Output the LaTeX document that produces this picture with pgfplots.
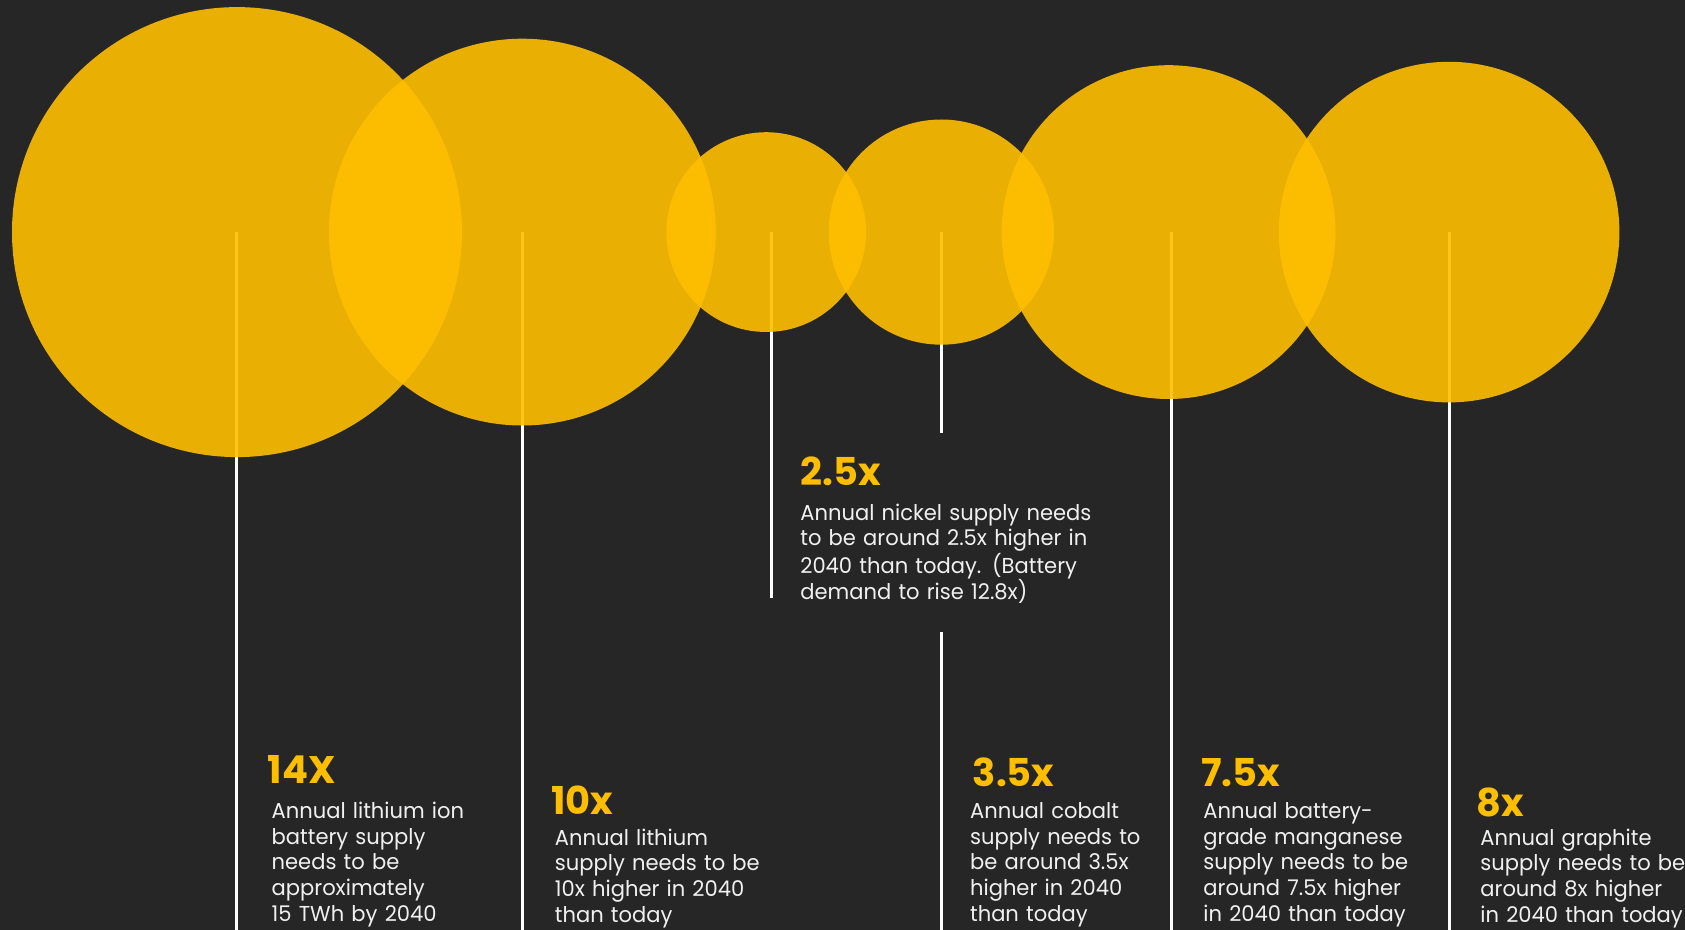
\documentclass[border=0pt]{standalone}
\usepackage{pgfplots}
\pgfplotsset{compat=1.18}
\usepackage{pgfplotstable}
\usepackage{fontspec}
\setmainfont{Poppins}
\newfontfamily\bodyfont[FakeStretch=0.975]{Poppins}

\definecolor{bg}{HTML}{262626}
\definecolor{cyel}{RGB}{255,191,0}
\definecolor{hyel}{HTML}{FDBE00}
\definecolor{txt}{HTML}{F0F0F0}

% circles: centre and radius, in pixels of the 1685x930 picture
\pgfplotstableread{
x      y      r
237.0  232.1  225.0
522.3  232.1  193.4
766.2  232.1  99.9
941.3  232.1  112.6
1168.6 232.1  166.9
1449.1 232.1  170.3
}\circles

\tikzset{
  head/.style={anchor=base west, inner sep=0pt, text=hyel,
    font=\fontsize{19.2}{22}\selectfont\bfseries},
  body/.style={anchor=base west, inner sep=0pt, text=txt, text width=200pt, align=left,
    font=\bodyfont\fontsize{10.8}{12.9}\selectfont},
}

\begin{document}
\begin{tikzpicture}
\fill[bg] (0,0) rectangle (842.5pt,465pt);
\begin{axis}[
  at={(0,0)}, anchor=south west,
  scale only axis, width=842.5pt, height=465pt,
  xmin=0, xmax=1685, ymin=0, ymax=930, y dir=reverse,
  enlargelimits=false, hide axis, clip=false,
]
\addplot[scatter, only marks, mark=*,
  scatter/use mapped color={draw=none, fill=cyel},
  visualization depends on={0.5*\thisrow{r} \as \rad},
  scatter/@pre marker code/.append style={/tikz/mark size=\rad},
  mark options={fill opacity=0.9, draw opacity=0}]
  table[x=x, y=y] {\circles};

\addplot[white, line width=1.3pt] coordinates {(236.4,232.1) (236.4,930)};
\addplot[white, line width=1.3pt] coordinates {(522.3,232.1) (522.3,930)};
\addplot[white, line width=1.3pt] coordinates {(771.6,232.1) (771.6,597.5)};
\addplot[white, line width=1.3pt] coordinates {(941.3,232.1) (941.3,433.1)};
\addplot[white, line width=1.3pt] coordinates {(941.3,631.9) (941.3,930)};
\addplot[white, line width=1.3pt] coordinates {(1171.3,232.1) (1171.3,930)};
\addplot[white, line width=1.3pt] coordinates {(1449.6,232.1) (1449.6,930)};

\node[head] at (axis cs:267.5,783.3) {14X};
\node[body] at (axis cs:271.3,818.3) {Annual lithium ion\\battery supply\\needs to be\\approximately\\15 TWh by 2040};

\node[head] at (axis cs:550.7,814) {10x};
\node[body] at (axis cs:554.5,845) {Annual lithium\\supply needs to be\\10x higher in 2040\\than today};

\node[head] at (axis cs:800,485) {2.5x};
\node[body] at (axis cs:800,520) {Annual nickel supply needs\\to be around 2.5x higher in\\2040 than today. (Battery\\demand to rise 12.8x)};

\node[head] at (axis cs:972.5,786) {3.5x};
\node[body] at (axis cs:969.7,818.3) {Annual cobalt\\supply needs to\\be around 3.5x\\higher in 2040\\than today};

\node[head] at (axis cs:1200.7,786) {7.5x};
\node[body] at (axis cs:1203,818.3) {Annual battery-\\grade manganese\\supply needs to be\\around 7.5x higher\\in 2040 than today};

\node[head] at (axis cs:1475.8,816) {8x};
\node[body] at (axis cs:1480,845) {Annual graphite\\supply needs to be\\around 8x higher\\in 2040 than today};
\end{axis}
\pgfresetboundingbox
\path (0,0) rectangle (842.5pt,465pt);
\end{tikzpicture}
\end{document}
